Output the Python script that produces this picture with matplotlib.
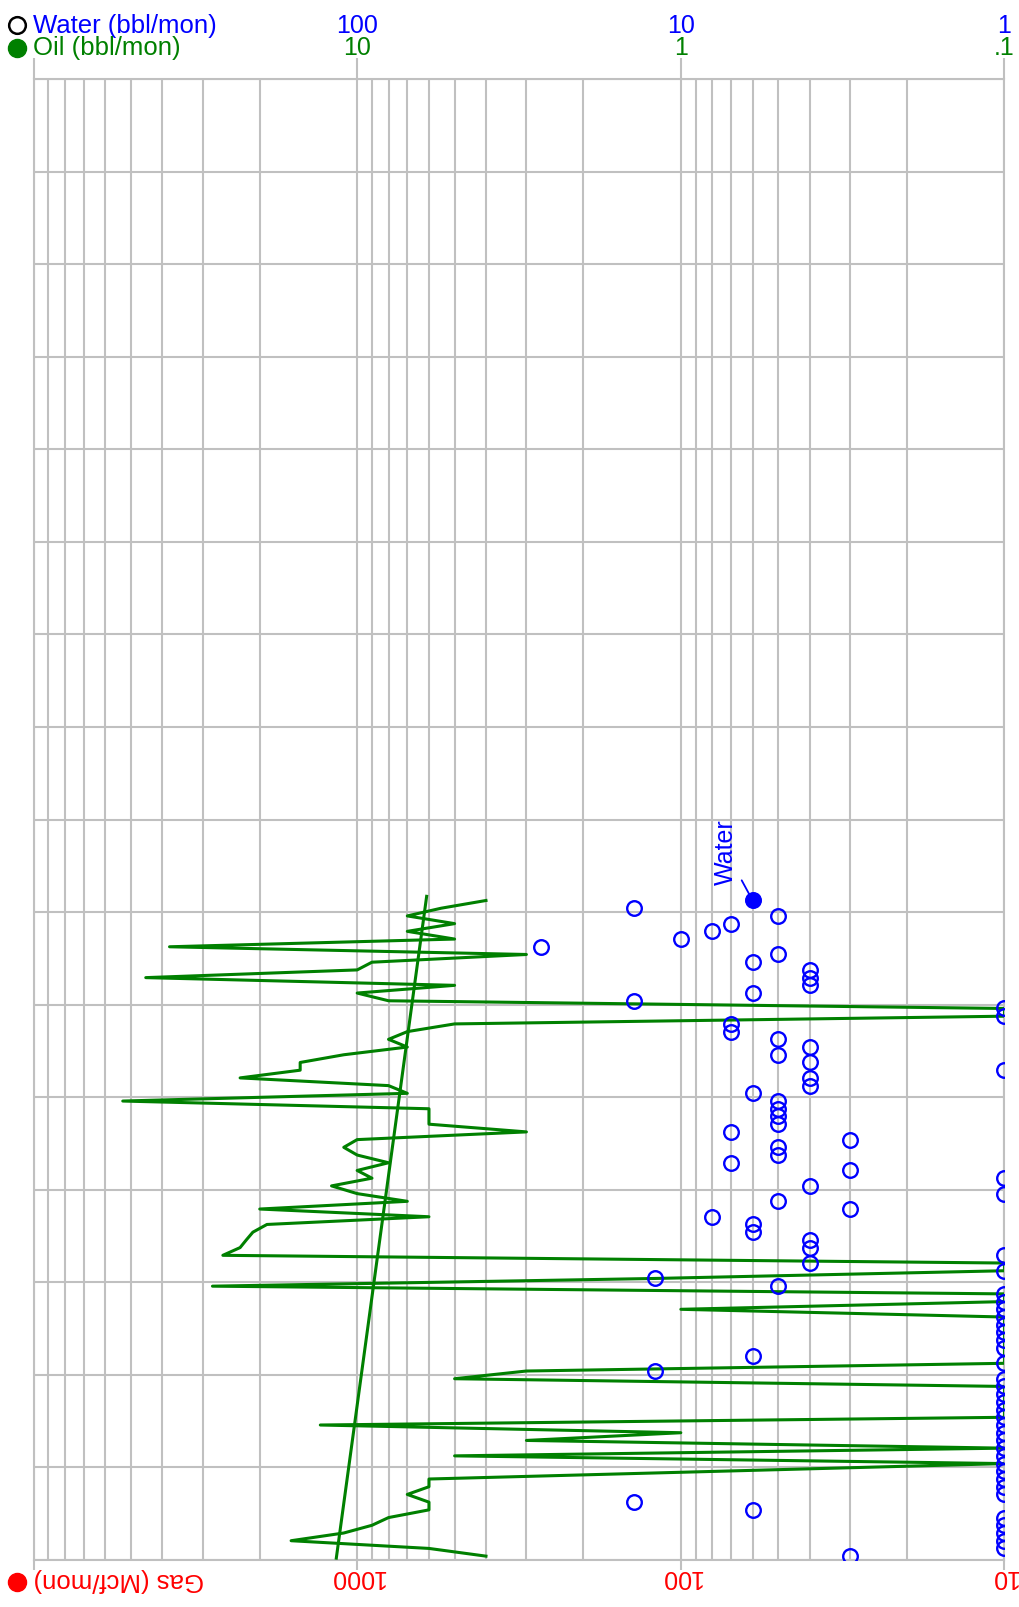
import numpy as np
import matplotlib.pyplot as plt
from matplotlib.lines import Line2D
from matplotlib.ticker import LogLocator, NullFormatter, NullLocator
import matplotlib.transforms as mtransforms

plt.rcParams['font.family'] = ['Liberation Sans', 'DejaVu Sans']

# monthly volumes, month 0 = first month on the chart (0 = nothing reported)
months = np.arange(86)
oil = [4.0, 6.0, 16, 11, 9, 8, 6, 6, 7, 6,
       6, 0.77, 0, 5, 0, 3, 1.0, 13, 0, 0,
       0, 0, 0, 5, 3, 0, 0, 0, 0, 0,
       0, 0, 1.0, 0, 0, 28, 1.2, 0, 0, 26,
       23, 22, 21, 19, 6, 20, 7, 10, 12, 9,
       10, 8, 10, 11, 10, 3, 6, 6, 6, 53,
       7, 8, 23, 15, 15, 11, 7, 8, 7, 5,
       0, 0, 8, 10, 5, 45, 10, 9, 3, 38,
       5, 7, 5, 7, 5.5, 4]
water = [3, 0, 0, 0, 0, 0, 6, 14, 0, 0,
         0, 0, 0, 0, 0, 0, 0, 0, 0, 0,
         0, 0, 0, 0, 12, 0, 6, 0, 0, 0,
         0, 0, 0, 0, 0, 5, 12, 0, 4, 0,
         4, 4, 6, 6, 8, 3, 5, 0, 4, 0,
         3, 7, 5, 5, 3, 7, 5, 5, 5, 5,
         6, 4, 4, 0, 4, 5, 4, 5, 7, 7,
         0, 0, 14, 6, 4, 4, 4, 6, 5, 27,
         10, 8, 7, 5, 14, 6]

# oil decline trend (years, bbl/mon)
trend_t = [0.02, 7.17]
trend_oil = [11.6, 6.1]

water_ticks = [100, 10, 1]
oil_ticks = [10, 1, 0.1]
oil_labels = ['10', '1', '.1']
gas_ticks = [1000, 100, 10]

years = 16
BLUE, GREEN, RED, GRID = '#0000ff', '#008000', '#ff0000', '#c0c0c0'
FS = 18

t = (months + 0.5) / 12
oil_x = np.maximum(np.array(oil, float), 0.1) * 10      # oil scale = water / 10
water_x = np.maximum(np.array(water, float), 1)

W, H = 1020, 1607
fig = plt.figure(figsize=(W / 100, H / 100), dpi=100)
ax = fig.add_axes([33.5 / W, 47 / H, 971 / W, 1481 / H])

ax.set_xscale('log')
ax.set_xlim(1000, 1)
ax.set_ylim(0, years)
ax.xaxis.set_major_locator(LogLocator(base=10))
ax.xaxis.set_minor_locator(LogLocator(base=10, subs=np.arange(2, 10)))
ax.xaxis.set_major_formatter(NullFormatter())
ax.xaxis.set_minor_formatter(NullFormatter())
ax.set_yticks(range(years + 1))
ax.yaxis.set_minor_locator(NullLocator())
ax.set_yticklabels([])
ax.grid(True, which='both', axis='x', color=GRID, lw=1.5)
ax.grid(True, which='major', axis='y', color=GRID, lw=1.5)
ax.set_axisbelow(True)
for s in ax.spines.values():
    s.set_color(GRID)
    s.set_linewidth(1.5)
ax.tick_params(axis='x', which='major', direction='out', length=7, width=1.5,
               color=GRID, top=False, bottom=True)
ax.tick_params(axis='x', which='minor', length=0)
ax.tick_params(axis='y', length=0)

# longer ticks on the top scale
sec = ax.secondary_xaxis('top')
sec.set_xticks([1000] + water_ticks)
sec.set_xticklabels([])
sec.xaxis.set_minor_locator(NullLocator())
sec.tick_params(axis='x', which='major', direction='out', length=15, width=1.5,
                color=GRID)
sec.spines['top'].set_visible(False)

ax.plot(oil_x, t, color=GREEN, lw=2.2, zorder=3)
ax.plot(np.array(trend_oil) * 10, trend_t, color=GREEN, lw=2.2, zorder=3)
ax.plot(water_x, t, ls='none', marker='o', ms=10.5, mfc='none', mec=BLUE,
        mew=1.7, zorder=4)
ax.plot(water_x[-1], t[-1], ls='none', marker='o', ms=10.5, mfc=BLUE, mec=BLUE,
        zorder=5)
ax.annotate('Water', xy=(water_x[-1], t[-1]), xytext=(-19, 35),
            textcoords='offset points', rotation=90, ha='center', va='center',
            color=BLUE, fontsize=FS,
            arrowprops=dict(arrowstyle='-', color=BLUE, lw=1.3, shrinkA=1, shrinkB=5))

# scale labels
tr = mtransforms.blended_transform_factory(ax.transData, ax.transAxes)
top_w = 1 + 46 / 1481
top_o = 1 + 24 / 1481
bot_g = -17 / 1481
for v in water_ticks:
    ax.text(v, top_w, str(v), transform=tr, ha='center', va='baseline',
            color=BLUE, fontsize=FS, clip_on=False)
for v, lab in zip(oil_ticks, oil_labels):
    ax.text(v * 10, top_o, lab, transform=tr, ha='center', va='baseline',
            color=GREEN, fontsize=FS, clip_on=False)
for v in gas_ticks:
    ax.text(v / 10, bot_g, str(v), transform=tr, ha='center', va='center',
            rotation=180, color=RED, fontsize=FS, clip_on=False)

# legend entries
fig.text(33 / W, 1 - 33 / H, 'Water (bbl/mon)', ha='left', va='baseline',
         color=BLUE, fontsize=18.5)
fig.text(33 / W, 1 - 55.5 / H, 'Oil (bbl/mon)', ha='left', va='baseline',
         color=GREEN, fontsize=18.5)
fig.text(34 / W, 27 / H, 'Gas (Mcf/mon)', ha='left', va='center',
         rotation=180, color=RED, fontsize=18.5)
fig.add_artist(Line2D([17 / W], [1 - 25 / H], marker='o', ms=12, mfc='none',
                      mec='black', mew=1.8, transform=fig.transFigure))
fig.add_artist(Line2D([17 / W], [1 - 48 / H], marker='o', ms=13, mfc=GREEN,
                      mec=GREEN, transform=fig.transFigure))
fig.add_artist(Line2D([17 / W], [25 / H], marker='o', ms=13, mfc=RED,
                      mec=RED, transform=fig.transFigure))

fig.savefig('out.png', dpi=100)
